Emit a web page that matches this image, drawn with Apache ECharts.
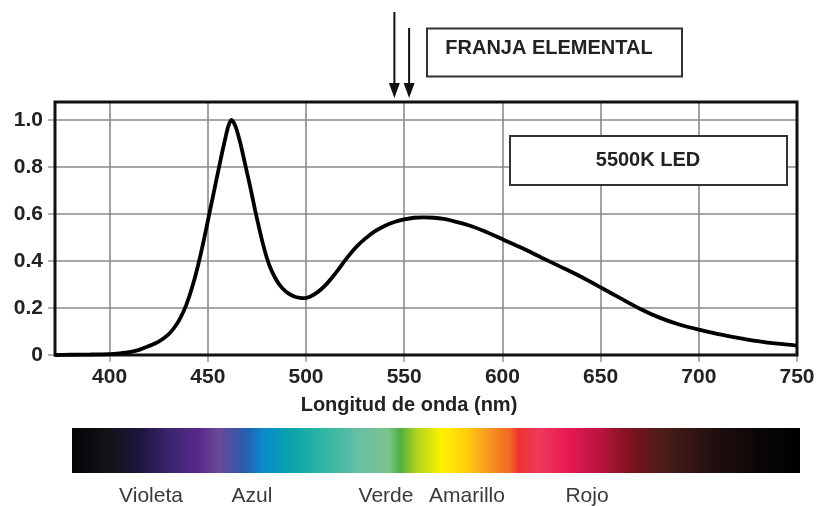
<!DOCTYPE html>
<html>
<head>
<meta charset="utf-8">
<script src="https://cdn.jsdelivr.net/npm/echarts@6/dist/echarts.min.js"></script>
<style>
html,body{margin:0;padding:0;background:#fff;}
#c{width:818px;height:506px;}
</style>
</head>
<body>
<div id="c"></div>
<script>
// Wavelength (nm) and relative intensity of the 5500K LED spectrum
const wavelengths = [372, 380, 390, 400, 405, 410, 415, 420, 425, 430, 433, 436, 439, 442, 445, 448, 451, 454, 457, 459, 460.5, 462, 464, 466, 468, 470, 472, 474, 476, 478, 480, 482, 484, 486, 488, 491, 494, 497, 499, 502, 505, 508, 511, 514, 517, 520, 523, 526, 530, 535, 540, 545, 550, 555, 560, 565, 570, 575, 580, 585, 590, 595, 600, 610, 620, 630, 640, 650, 660, 670, 680, 690, 700, 710, 720, 730, 740, 750];
const intensity   = [0.000, 0.001, 0.002, 0.004, 0.007, 0.012, 0.022, 0.038, 0.057, 0.088, 0.117, 0.157, 0.212, 0.287, 0.380, 0.490, 0.610, 0.730, 0.850, 0.925, 0.975, 1.000, 0.975, 0.920, 0.850, 0.775, 0.700, 0.620, 0.545, 0.475, 0.415, 0.368, 0.333, 0.305, 0.284, 0.262, 0.249, 0.243, 0.242, 0.248, 0.262, 0.282, 0.307, 0.337, 0.370, 0.404, 0.435, 0.463, 0.494, 0.526, 0.549, 0.566, 0.577, 0.584, 0.586, 0.584, 0.579, 0.570, 0.559, 0.546, 0.530, 0.512, 0.493, 0.455, 0.414, 0.374, 0.333, 0.288, 0.242, 0.197, 0.159, 0.130, 0.108, 0.089, 0.073, 0.059, 0.048, 0.040];
const xTicks = [400, 450, 500, 550, 600, 650, 700, 750];
const yTicks = [0, 0.2, 0.4, 0.6, 0.8, 1.0];
const arrowWavelengths = [545, 552.5];
const bandNames = ['Violeta', 'Azul', 'Verde', 'Amarillo', 'Rojo'];
const headerText = 'FRANJA ELEMENTAL';
const legendText = '5500K LED';
const xAxisTitle = 'Longitud de onda (nm)';

const chart = echarts.init(document.getElementById('c'), null, {renderer: 'canvas'});

const spectrumStops = [
  [0.000, '#050505'], [0.050, '#121218'], [0.096, '#1e1640'], [0.136, '#3c2670'],
  [0.176, '#5a2a8a'], [0.202, '#6a4898'], [0.236, '#2c5aaa'], [0.262, '#0a88cc'],
  [0.302, '#0aa4a8'], [0.355, '#3ab8a4'], [0.395, '#68c0a4'], [0.435, '#7cc28c'],
  [0.451, '#4cb040'], [0.474, '#b4d420'], [0.508, '#fff200'], [0.541, '#ffd00a'],
  [0.567, '#f8a020'], [0.601, '#f06a22'], [0.614, '#ee3232'], [0.640, '#ee3a5a'],
  [0.680, '#e81a52'], [0.727, '#b81440'], [0.766, '#80121e'], [0.813, '#4a1c18'],
  [0.879, '#221010'], [0.946, '#0a0606'], [1.000, '#000000']
].map(s => ({offset: s[0], color: s[1]}));

const option = {
  animation: false,
  backgroundColor: '#ffffff',
  grid: {left: 55, right: 21, top: 102, bottom: 151, show: true, borderColor: '#111', borderWidth: 3, backgroundColor: 'transparent', z: 3},
  xAxis: {
    type: 'value', min: 372.2, max: 750,
    axisLine: {show: false},
    axisTick: {show: true, length: 7, customValues: xTicks, lineStyle: {color: '#999', width: 1.5}},
    axisLabel: {customValues: xTicks, margin: 12, color: '#222', fontFamily: 'Liberation Sans, Arial, sans-serif', fontWeight: 'bold', fontSize: 21},
    splitLine: {show: true, lineStyle: {color: '#8a8a8a', width: 1.6}},
    name: xAxisTitle, nameLocation: 'middle', nameGap: 40,
    nameTextStyle: {color: '#222', fontFamily: 'Liberation Sans, Arial, sans-serif', fontWeight: 'bold', fontSize: 20, padding: [0, 34, 0, 0]}
  },
  yAxis: {
    type: 'value', min: 0, max: 1.0766,
    axisLine: {show: false},
    axisTick: {show: true, length: 7, customValues: yTicks, lineStyle: {color: '#999', width: 1.5}},
    axisLabel: {customValues: yTicks, margin: 12, color: '#222', fontFamily: 'Liberation Sans, Arial, sans-serif', fontWeight: 'bold', fontSize: 21,
      formatter: v => (v === 0 ? '0' : v.toFixed(1))},
    splitLine: {show: true, lineStyle: {color: '#8a8a8a', width: 1.6}}
  },
  series: [{
    type: 'line',
    data: wavelengths.map((w, i) => [w, intensity[i]]),
    showSymbol: false,
    smooth: 0.3,
    lineStyle: {color: '#000', width: 3.8},
    z: 4
  }]
};
chart.setOption(option);

const ax = arrowWavelengths.map(w => chart.convertToPixel({gridIndex: 0}, [w, 0])[0]);
const arrowTops = [12, 28];
const graphics = [];
ax.forEach((x, i) => {
  graphics.push({type: 'line', shape: {x1: x, y1: arrowTops[i], x2: x, y2: 88}, style: {stroke: '#111', lineWidth: 2}});
  graphics.push({type: 'polygon', shape: {points: [[x - 5.5, 83], [x + 5.5, 83], [x, 98]]}, style: {fill: '#111'}});
});
graphics.push(
  {type: 'rect', shape: {x: 427, y: 28.5, width: 255, height: 48}, style: {fill: '#fff', stroke: '#333', lineWidth: 2}},
  {type: 'text', x: 549, y: 48, style: {text: headerText, fill: '#222', font: 'bold 20px "Liberation Sans", Arial, sans-serif', align: 'center', verticalAlign: 'middle'}},
  {type: 'rect', shape: {x: 510, y: 136, width: 277, height: 49}, style: {fill: '#fff', stroke: '#333', lineWidth: 2}, z: 10},
  {type: 'text', x: 648, y: 160, style: {text: legendText, fill: '#222', font: 'bold 20px "Liberation Sans", Arial, sans-serif', align: 'center', verticalAlign: 'middle'}, z: 11},
  {type: 'rect', shape: {x: 72, y: 428, width: 728, height: 45}, style: {fill: new echarts.graphic.LinearGradient(0, 0, 1, 0, spectrumStops)}}
);
const bandX = [151, 252, 386, 467, 587];
bandNames.forEach((n, i) => {
  graphics.push({type: 'text', x: bandX[i], y: 496, style: {text: n, fill: '#3a3a3a', font: '21px "Liberation Sans", Arial, sans-serif', align: 'center', verticalAlign: 'middle'}});
});
chart.setOption({graphic: graphics});
</script>
</body>
</html>
